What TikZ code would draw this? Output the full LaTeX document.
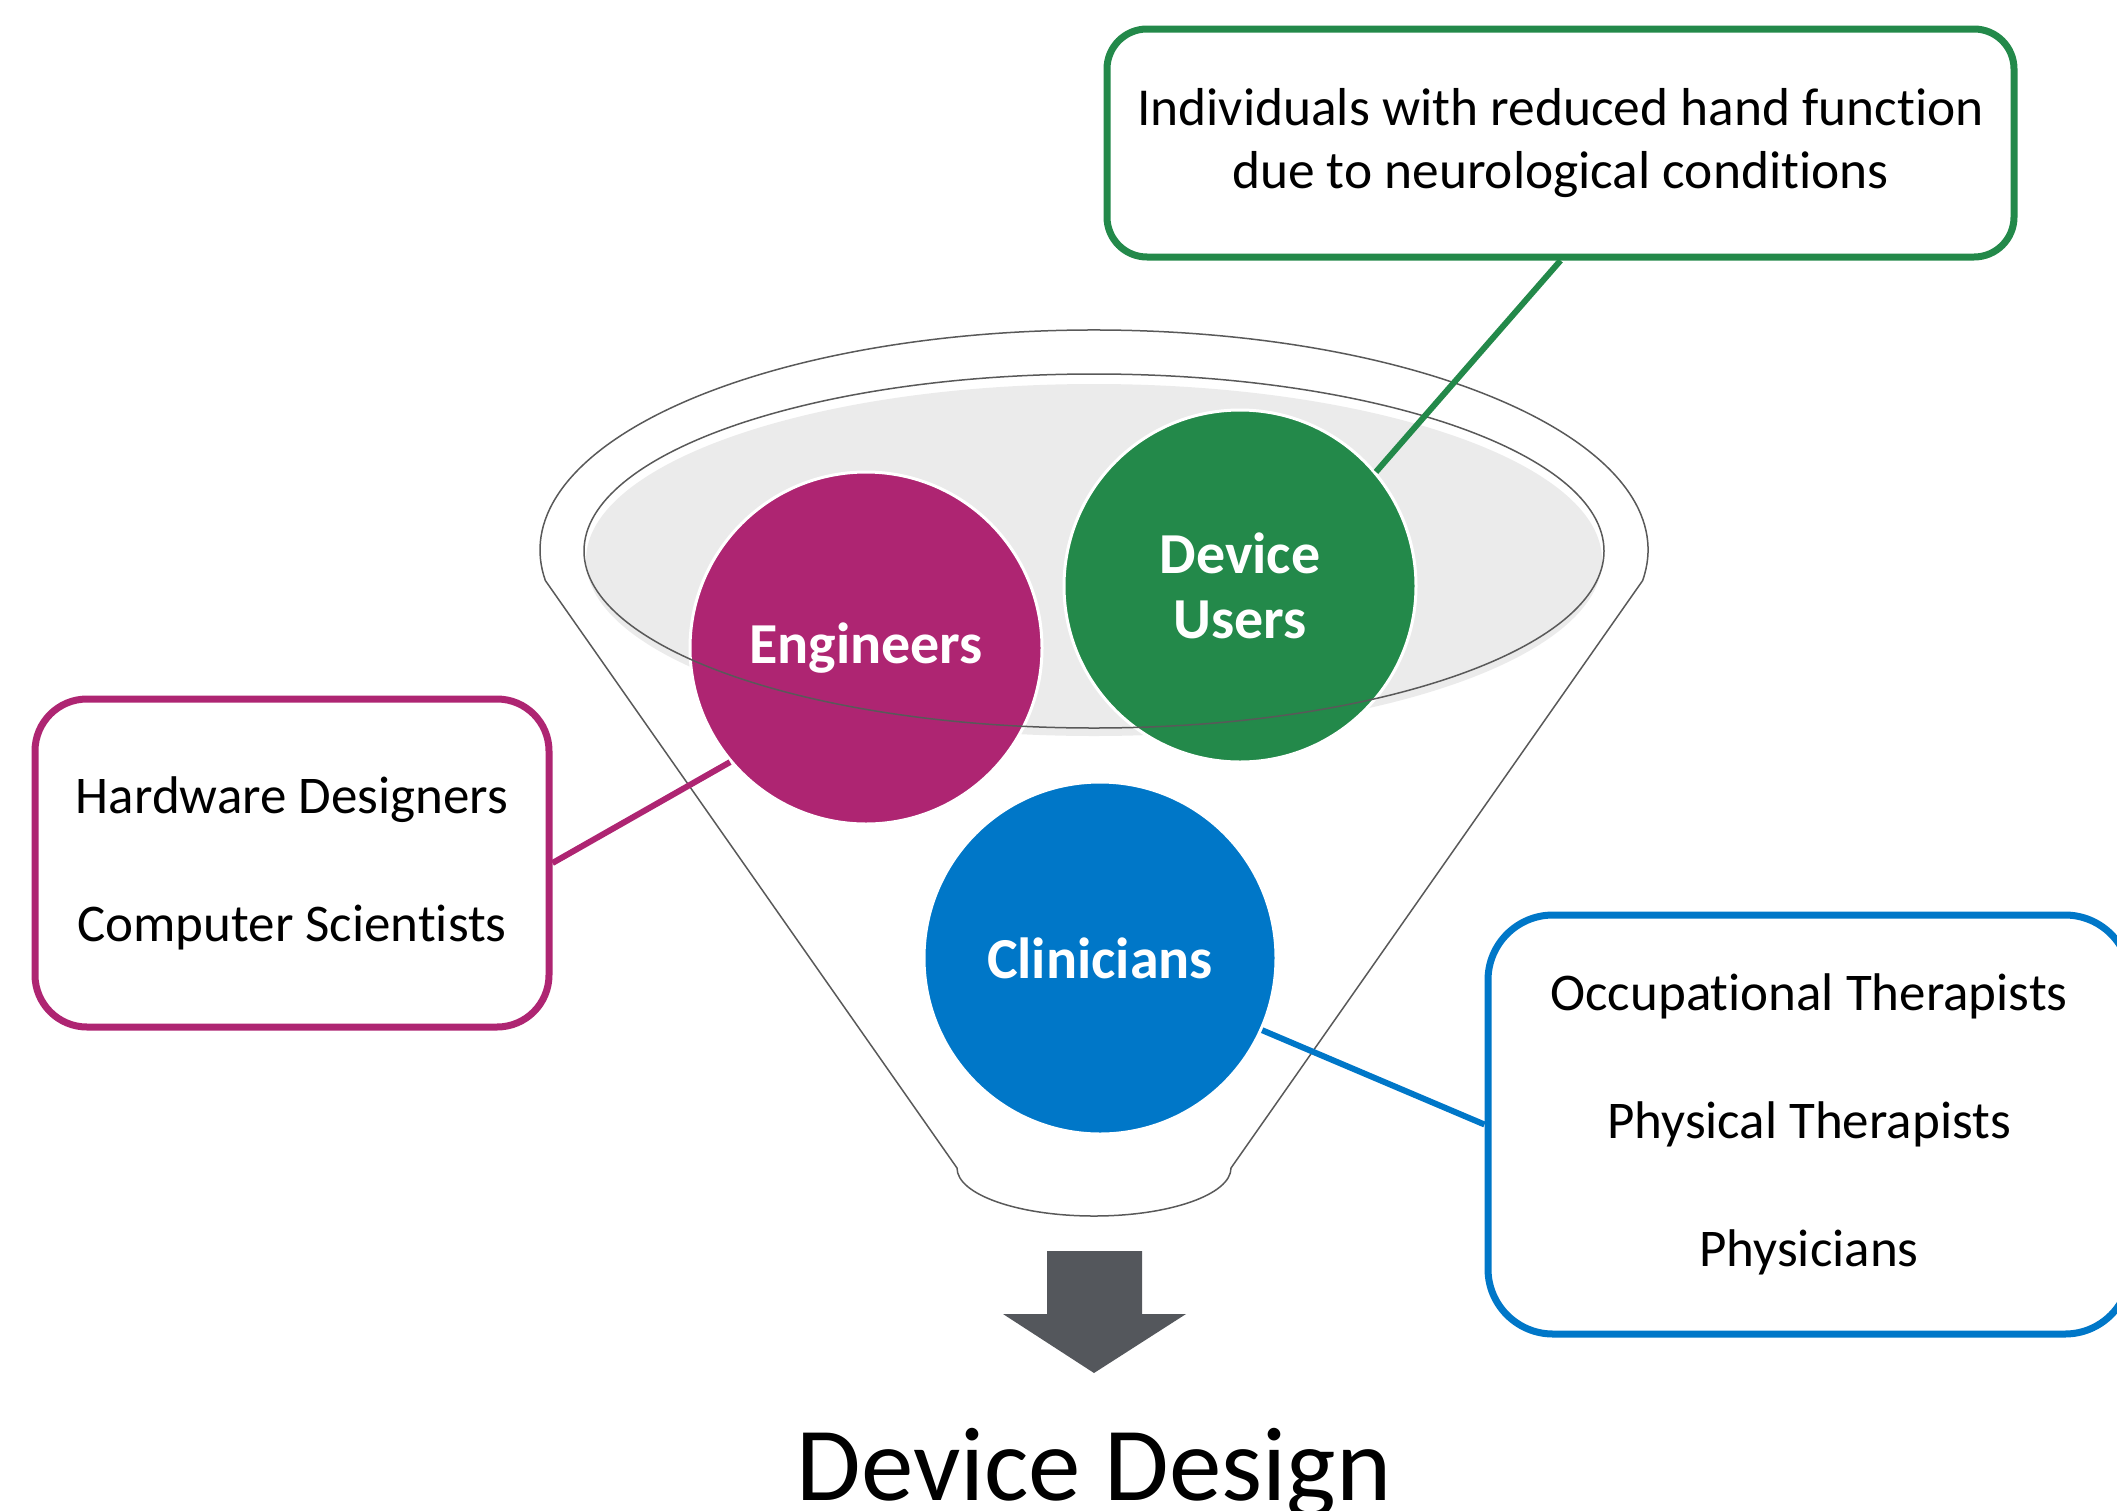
\documentclass[tikz,border=0pt]{standalone}
\usepackage{fontspec}
\setmainfont{Carlito}[Ligatures=NoCommon]
\definecolor{cmag}{HTML}{AE2572}
\definecolor{cgreen}{HTML}{23894A}
\definecolor{cblue}{HTML}{0077C8}
\definecolor{cgrayline}{HTML}{595959}
\definecolor{cfill}{HTML}{EBEBEB}
\definecolor{carrow}{HTML}{54575C}
\tikzset{
  blob/.style={circle, minimum size=352pt, inner sep=0pt, draw=white, line width=3pt,
    text=white, font=\fontsize{58}{65}\selectfont\bfseries, align=center},
  infobox/.style={draw, line width=7pt, fill=white, align=center, inner sep=0pt},
  link/.style={line width=6pt},
  funnelline/.style={draw=cgrayline, line width=1.5pt},
}
\begin{document}
\begin{tikzpicture}[x=1pt,y=1pt]
\useasboundingbox (0,0) rectangle (2117,-1510);
% funnel bowl shading
\fill[cfill] (1094,-560) ellipse [x radius=508, y radius=176];
% circles
\node[blob, fill=cmag] (eng) at (866,-648) {Engineers};
\node[blob, fill=cgreen] (du) at (1240,-586) {Device\\Users};
\node[blob, fill=cblue] (cli) at (1100,-958) {Clinicians};
% funnel outlines
\draw[funnelline] (1094,-551) ellipse [x radius=510, y radius=177];
\draw[funnelline] (1642.6,-580.6) arc[start angle=-8, end angle=188, x radius=554, y radius=220]
  -- (957,-1168) arc[start angle=180, end angle=360, x radius=137, y radius=48] -- cycle;
% boxes
\node[infobox, draw=cgreen, rounded corners=40pt, minimum width=907pt, minimum height=228pt,
  font=\fontsize{53.4}{63}\selectfont] (gbox) at (1560.5,-143)
  {Individuals with reduced hand function\\due to neurological conditions};
\node[infobox, draw=cmag, rounded corners=52pt, minimum width=514pt, minimum height=328pt,
  font=\fontsize{53}{128}\selectfont] (mbox) at (292,-863)
  {Hardware Designers\\Computer Scientists};
\node[infobox, draw=cblue, rounded corners=65pt, minimum width=642pt, minimum height=419pt,
  font=\fontsize{53}{128}\selectfont] (bbox) at (1809,-1124.5)
  {Occupational Therapists\\Physical Therapists\\Physicians};
% connectors
\draw[link, cgreen] (du.40.8) -- (gbox.south);
\draw[link, cmag] (eng.220.8) -- (mbox.east);
\draw[link, cblue] (cli.-24.4) -- (bbox.west);
% arrow
\fill[carrow] (1047,-1251) -- (1142,-1251) -- (1142,-1314) -- (1186,-1314) -- (1094,-1373)
  -- (1003,-1314) -- (1047,-1314) -- cycle;
\node[font=\fontsize{105}{120}\selectfont, anchor=base, inner sep=0pt] (dd) at (1094,-1500) {Device Design};
\end{tikzpicture}
\end{document}
